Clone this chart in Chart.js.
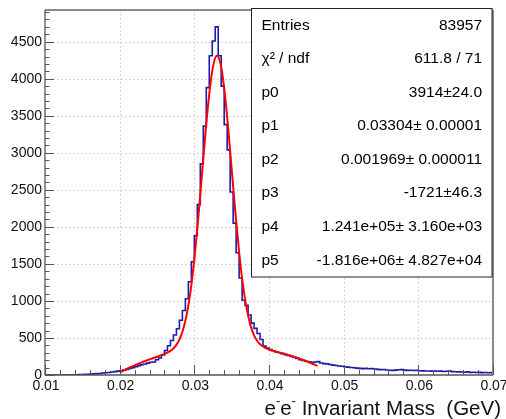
<!DOCTYPE html>
<html>
<head>
<meta charset="utf-8">
<script src="https://cdn.jsdelivr.net/npm/chart.js@4.4.1/dist/chart.umd.min.js"></script>
<style>
    html, body { margin: 0; padding: 0; background: #fff; }
    #wrap { width: 506px; height: 419px; }
</style>
</head>
<body>
<div id="wrap"><canvas id="myChart" width="506" height="419"></canvas></div>
<script>
// binning dell'istogramma
let histMin = 0.01,
    histMax = 0.07,
    binWidth = 0.0004;

// conteggi per bin
let counts = [
    0, 0, 1, 0, 1, 1, 2, 2, 3, 3,
    4, 5, 6, 8, 10, 12, 15, 18, 20, 26,
    30, 34, 40, 46, 52, 58, 66, 76, 88, 100,
    112, 126, 138, 148, 160, 172, 175, 205, 230, 270,
    330, 395, 465, 540, 625, 740, 870, 1030, 1260, 1530,
    1880, 2300, 2850, 3360, 3880, 4310, 4510, 4700, 4310, 3900,
    3380, 3040, 2470, 2050, 1650, 1310, 1010, 940, 810, 700,
    630, 560, 480, 390, 365, 345, 328, 312, 300, 288,
    275, 265, 250, 236, 224, 208, 195, 185, 178, 172,
    176, 180, 162, 154, 150, 141, 133, 128, 122, 118,
    112, 106, 101, 98, 93, 89, 86, 90, 84, 86,
    80, 76, 72, 74, 68, 64, 62, 66, 70, 72,
    66, 62, 64, 60, 62, 58, 56, 54, 55, 52,
    54, 50, 52, 48, 50, 54, 46, 44, 42, 40,
    38, 42, 36, 38, 34, 36, 32, 34, 30, 32
];

// curva del fit
let fitX = [0.0200, 0.0205, 0.0210, 0.0215, 0.0220, 0.0225, 0.0230, 0.0235, 0.0240, 0.0245,
            0.0250, 0.0255, 0.0260, 0.0265, 0.0270, 0.0275, 0.0280, 0.0285, 0.0290, 0.0295,
            0.0300, 0.0305, 0.0310, 0.0315, 0.0320, 0.0325, 0.0330, 0.0335, 0.0340, 0.0345,
            0.0350, 0.0355, 0.0360, 0.0365, 0.0370, 0.0375, 0.0380, 0.0385, 0.0390, 0.0395,
            0.0400, 0.0405, 0.0410, 0.0415, 0.0420, 0.0425, 0.0430, 0.0435, 0.0440, 0.0445,
            0.0450, 0.0455, 0.0460, 0.0465];
let fitY = [35, 60, 84, 108, 130, 152, 173, 192, 211, 230,
            247, 265, 285, 308, 341, 393, 478, 615, 828, 1137,
            1565, 2089, 2682, 3280, 3796, 4164, 4310, 4207, 3874, 3372,
            2783, 2190, 1657, 1225, 903, 680, 536, 449, 397, 366,
            345, 329, 315, 302, 288, 273, 258, 241, 224, 205,
            186, 166, 145, 123];

let yMax = 4928;
let xTicks = [0.01, 0.02, 0.03, 0.04, 0.05, 0.06, 0.07],
    xTickLabels = ["0.01", "0.02", "0.03", "0.04", "0.05", "0.06", "0.07"],
    yTicks = [0, 500, 1000, 1500, 2000, 2500, 3000, 3500, 4000, 4500],
    yTickLabels = ["0", "500", "1000", "1500", "2000", "2500", "3000", "3500", "4000", "4500"];

// box delle statistiche
let statLabels = ["Entries", "\u03c7\u00b2 / ndf", "p0", "p1", "p2", "p3", "p4", "p5"],
    statValues = ["83957", "611.8 / 71", "3914\u00b124.0", "0.03304\u00b1 0.00001",
                  "0.001969\u00b1 0.000011", "-1721\u00b146.3", "1.241e+05\u00b1 3.160e+03",
                  "-1.816e+06\u00b1 4.827e+04"];

let fontName = "'Liberation Sans', Arial, sans-serif";

function linea(ctx, x1, y1, x2, y2) {
    ctx.beginPath();
    ctx.moveTo(x1, y1);
    ctx.lineTo(x2, y2);
    ctx.stroke();
}

let rootFrame = {
    id: "rootFrame",
    beforeDatasetsDraw(chart) {
        let ctx = chart.ctx, a = chart.chartArea,
            sx = chart.scales.x, sy = chart.scales.y;
        ctx.save();
        ctx.strokeStyle = "#c6c6c6";
        ctx.lineWidth = 1;
        ctx.setLineDash([1.5, 2.5]);
        xTicks.forEach(v => {
            if (v > histMin + 1e-9 && v < histMax - 1e-9) {
                let px = Math.round(sx.getPixelForValue(v)) + 0.5;
                linea(ctx, px, a.top, px, a.bottom);
            }
        });
        yTicks.forEach(v => {
            if (v > 0) {
                let py = Math.round(sy.getPixelForValue(v)) + 0.5;
                linea(ctx, a.left, py, a.right, py);
            }
        });
        ctx.restore();
    },
    afterDatasetsDraw(chart) {
        let ctx = chart.ctx, a = chart.chartArea,
            sx = chart.scales.x, sy = chart.scales.y;
        ctx.save();
        // cornice
        ctx.strokeStyle = "#8a8a8a";
        ctx.lineWidth = 2;
        linea(ctx, a.left, a.top, a.right, a.top);
        linea(ctx, a.right, a.top, a.right, a.bottom);
        ctx.strokeStyle = "#555";
        ctx.lineWidth = 1.3;
        linea(ctx, a.left, a.top, a.left, a.bottom);
        linea(ctx, a.left, a.bottom, a.right, a.bottom);

        // tacche asse x
        ctx.lineWidth = 1;
        ctx.strokeStyle = "#555";
        for (let k = 0; k <= 30; k++) {
            let v = histMin + k * 0.002,
                px = Math.round(sx.getPixelForValue(v)) + 0.5,
                len = (k % 5 == 0) ? 10 : 5;
            linea(ctx, px, a.bottom, px, a.bottom - len);
        }
        // tacche asse y
        for (let v = 0; v <= yMax; v += 100) {
            let py = Math.round(sy.getPixelForValue(v)) + 0.5,
                len = (v % 500 == 0) ? 9 : 4.5;
            linea(ctx, a.left, py, a.left + len, py);
        }

        // etichette
        ctx.fillStyle = "#111";
        ctx.font = "14px " + fontName;
        ctx.textAlign = "center";
        ctx.textBaseline = "alphabetic";
        xTicks.forEach((v, i) => {
            ctx.fillText(xTickLabels[i], sx.getPixelForValue(v) + 1, 390);
        });
        ctx.textAlign = "right";
        ctx.textBaseline = "middle";
        yTicks.forEach((v, i) => {
            ctx.fillText(yTickLabels[i], a.left - 3, sy.getPixelForValue(v));
        });

        // titolo asse x
        let parti = [
            { t: "e", sup: false }, { t: "-", sup: true },
            { t: "e", sup: false }, { t: "-", sup: true },
            { t: " Invariant Mass  (GeV)", sup: false }
        ];
        let tot = 0;
        parti.forEach(p => {
            ctx.font = (p.sup ? "13px " : "20.5px ") + fontName;
            p.w = ctx.measureText(p.t).width;
            tot += p.w;
        });
        let cx = 501 - tot;
        ctx.textAlign = "left";
        ctx.textBaseline = "alphabetic";
        parti.forEach(p => {
            ctx.font = (p.sup ? "13px " : "20.5px ") + fontName;
            ctx.fillText(p.t, cx, p.sup ? 405 : 415);
            cx += p.w;
        });
        ctx.restore();
    },
    afterDraw(chart) {
        let ctx = chart.ctx;
        let bx = 251.5, by = 8.5, bw = 240.5, bh = 268.5,
            rowH = bh / statLabels.length;
        ctx.save();
        ctx.fillStyle = "#fff";
        ctx.fillRect(bx, by, bw, bh);
        ctx.strokeStyle = "#222";
        ctx.lineWidth = 1;
        ctx.strokeRect(bx, by, bw, bh);
        ctx.fillStyle = "#000";
        ctx.font = "15.5px " + fontName;
        ctx.textBaseline = "middle";
        statLabels.forEach((lab, i) => {
            let cy = by + rowH * (i + 0.5);
            ctx.textAlign = "left";
            ctx.fillText(lab, bx + 10, cy);
            ctx.textAlign = "right";
            ctx.fillText(statValues[i], bx + bw - 10, cy);
        });
        ctx.restore();
    }
};

// punti dell'istogramma sui bordi dei bin
let histPoints = counts.map((c, i) => ({ x: histMin + i * binWidth, y: c }));
histPoints.push({ x: histMax, y: counts[counts.length - 1] });

let fitPoints = fitX.map((x, i) => ({ x: x, y: fitY[i] }));

let _myChart = new Chart(document.getElementById("myChart"), {
    type: "line",
    data: {
        datasets: [
            {
                label: "fit",
                data: fitPoints,
                borderColor: "#ff0000",
                borderWidth: 2,
                pointRadius: 0,
                cubicInterpolationMode: "monotone",
                fill: false
            },
            {
                label: "hist",
                data: histPoints,
                borderColor: "#1c1caa",
                borderWidth: 1.6,
                pointRadius: 0,
                stepped: "before",
                fill: false
            }
        ]
    },
    options: {
        responsive: false,
        devicePixelRatio: 1,
        animation: false,
        events: [],
        layout: { padding: { left: 45, right: 13, top: 10, bottom: 44 } },
        plugins: { legend: { display: false }, tooltip: { enabled: false } },
        scales: {
            x: { type: "linear", min: histMin, max: histMax, display: false },
            y: { type: "linear", min: 0, max: yMax, display: false }
        }
    },
    plugins: [rootFrame]
});
</script>
</body>
</html>
